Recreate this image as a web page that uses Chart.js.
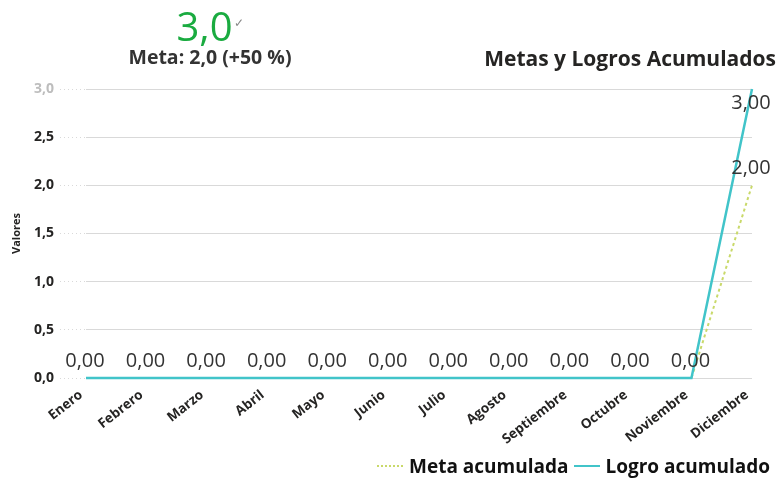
<!DOCTYPE html>
<html>
<head>
<meta charset="utf-8">
<script src="https://cdn.jsdelivr.net/npm/chart.js@4.4.1/dist/chart.umd.min.js"></script>
<style>
  html, body { margin: 0; padding: 0; background: #fff; }
  body { width: 781px; height: 482px; position: relative; overflow: hidden; font-family: "Open Sans", sans-serif; color: #252423; }
  #wrap { position: absolute; left: 0; top: 0; width: 781px; height: 482px; }
  .kpi { position: absolute; text-align: center; }
  #kpiVal { top: -2px; left: 110px; width: 200px; font-size: 40px; color: #1aab40; line-height: 50px; }
  #kpiVal span { font-size: 12px; color: #888; vertical-align: 14px; margin-left: 1px; }
  #kpiMeta { top: 43px; left: 90px; width: 240px; font-size: 19.5px; font-weight: bold; color: #333; }
  #titulo { position: absolute; right: 5px; top: 44px; font-size: 21px; font-weight: bold; color: #252423; }
  #leyenda { position: absolute; right: 11px; top: 453px; font-size: 19px; font-weight: bold; display: flex; align-items: center; color: #111; }
  .lin { display: inline-block; width: 26px; margin-right: 6px; height: 0; }
  .meta { border-top: 2px dotted #c9d96a; }
  .logro { border-top: 2px solid #41c4c9; margin-left: 5px; }
</style>
</head>
<body>
<div id="wrap"><canvas id="grafico" width="781" height="482"></canvas></div>
<div class="kpi" id="kpiVal">3,0<span>&#10003;</span></div>
<div class="kpi" id="kpiMeta">Meta: 2,0 (+50 %)</div>
<div id="titulo">Metas y Logros Acumulados</div>
<div id="leyenda">
  <span class="lin meta"></span>Meta acumulada
  <span class="lin logro"></span>Logro acumulado
</div>
<script>
const meses = ["Enero", "Febrero", "Marzo", "Abril", "Mayo", "Junio", "Julio", "Agosto", "Septiembre", "Octubre", "Noviembre", "Diciembre"];
const metaAcumulada = [0, 0, 0, 0, 0, 0, 0, 0, 0, 0, 0, 2];
const logroAcumulado = [0, 0, 0, 0, 0, 0, 0, 0, 0, 0, 0, 3];
const ticksY = [0, 0.5, 1, 1.5, 2, 2.5, 3];

const fmt = v => v.toFixed(2).replace(".", ",");

// etiquetas de datos sobre los puntos
const etiquetas = {
  id: "etiquetas",
  afterDatasetsDraw(chart) {
    const ctx = chart.ctx;
    const area = chart.chartArea;
    ctx.save();
    ctx.font = "20px 'Open Sans'";
    ctx.fillStyle = "#333";
    ctx.textAlign = "center";
    ctx.textBaseline = "middle";
    chart.data.datasets.forEach((ds, i) => {
      const meta = chart.getDatasetMeta(i);
      meta.data.forEach((p, j) => {
        // los ceros coinciden, solo se pintan una vez
        if (i === 0 && ds.data[j] === logroAcumulado[j]) return;
        let y = p.y - 17;
        if (y < area.top + 12) y = p.y + 14;
        ctx.fillText(fmt(ds.data[j]), p.x - 1, y);
      });
    });
    ctx.restore();
  }
};

new Chart(document.getElementById("grafico"), {
  type: "line",
  data: {
    labels: meses,
    datasets: [
      {
        label: "Meta acumulada",
        data: metaAcumulada,
        borderColor: "#c9d96a",
        borderWidth: 2,
        borderDash: [3, 3],
        pointRadius: 0,
        tension: 0,
        clip: false,
        order: 2
      },
      {
        label: "Logro acumulado",
        data: logroAcumulado,
        borderColor: "#41c4c9",
        borderWidth: 2.5,
        pointRadius: 0,
        tension: 0,
        clip: false,
        order: 1
      }
    ]
  },
  options: {
    responsive: false,
    animation: false,
    layout: { padding: { left: 8, right: 29, top: 89, bottom: 0 } },
    plugins: {
      legend: { display: false },
      title: { display: false },
      tooltip: { enabled: false }
    },
    scales: {
      x: {
        offset: false,
        grid: { display: false },
        border: { display: false },
        ticks: {
          color: "#252423",
          font: { family: "Open Sans", size: 13.5, weight: "bold" },
          maxRotation: 38,
          minRotation: 38,
          padding: 1,
          labelOffset: -5,
          autoSkip: false
        },
        afterFit: s => { s.height = 104; }
      },
      y: {
        min: 0,
        max: 3,
        afterBuildTicks: s => { s.ticks = ticksY.map(v => ({ value: v })); },
        grid: {
          color: "#d9d9d9",
          tickColor: "#d9d9d9",
          borderDash: [1, 3],
          tickBorderDash: [1, 3],
          drawTicks: true,
          tickLength: 26
        },
        border: { display: false },
        ticks: {
          color: ctx => ctx.tick.value === 3 ? "#bdbdbd" : "#252423",
          font: { family: "Open Sans", size: 14, weight: "bold" },
          padding: 6,
          callback: v => v.toFixed(1).replace(".", ",")
        },
        title: {
          display: true,
          text: "Valores",
          color: "#252423",
          font: { family: "Open Sans", size: 11, weight: "bold" },
          padding: 2
        },
        afterFit: s => { s.width = 78; }
      }
    }
  },
  plugins: [etiquetas]
});
</script>
</body>
</html>
